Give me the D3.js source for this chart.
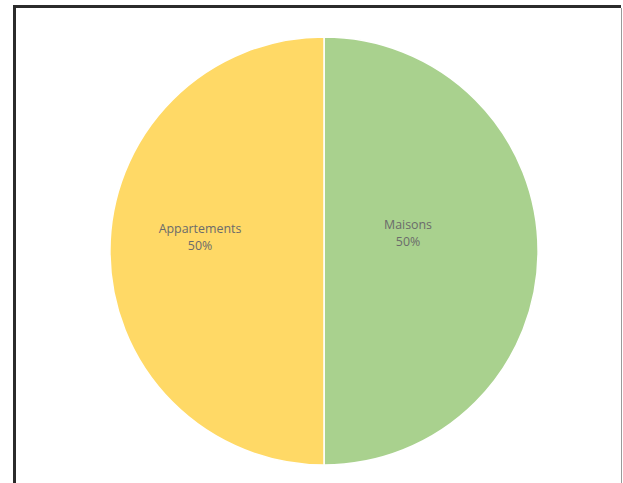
<!DOCTYPE html>
<html><head><meta charset="utf-8">
<script src="https://cdn.jsdelivr.net/npm/d3@7"></script>
<style>html,body{margin:0;padding:0;background:#fff;}svg{display:block;}</style>
</head><body>
<svg id="c" width="623" height="483"></svg>
<script>
const categories = ["Maisons", "Appartements"];
const values = [50, 50];
const colors = ["#A9D18E", "#FFD966"];

const svg = d3.select("#c");
// frame
svg.append("line").attr("x1",14.5).attr("y1",5).attr("x2",14.5).attr("y2",483).attr("stroke","#2b2b2b").attr("stroke-width",3);
svg.append("line").attr("x1",13).attr("y1",6.5).attr("x2",621).attr("y2",6.5).attr("stroke","#2b2b2b").attr("stroke-width",3);
svg.append("line").attr("x1",621.5).attr("y1",8).attr("x2",621.5).attr("y2",483).attr("stroke","#9a9a9a").attr("stroke-width",1);

const cx = 324, cy = 251, r = 214;
const pie = d3.pie().sort(null).value(d => d)(values);
const arc = d3.arc().innerRadius(0).outerRadius(r);
const g = svg.append("g").attr("transform", `translate(${cx},${cy})`);
g.selectAll("path").data(pie).join("path")
  .attr("d", arc)
  .attr("fill", (d,i) => colors[i])
  .attr("stroke", "#fff").attr("stroke-width", 1.5);

const total = d3.sum(values);
const labelOffsets = [[84,-18],[-124,-14]];
const lab = g.selectAll("g.lab").data(pie).join("g").attr("class","lab")
  .attr("transform",(d,i)=>`translate(${labelOffsets[i][0]},${labelOffsets[i][1]})`);
lab.append("text").attr("text-anchor","middle").attr("y",-4)
  .attr("font-family","Open Sans, sans-serif").attr("font-size",12.4).attr("fill","#6b6b6b")
  .text((d,i)=>categories[i]);
lab.append("text").attr("text-anchor","middle").attr("y",13)
  .attr("font-family","Open Sans, sans-serif").attr("font-size",12.4).attr("fill","#6b6b6b")
  .text(d=>Math.round(d.data/total*100)+"%");
</script>
</body></html>
